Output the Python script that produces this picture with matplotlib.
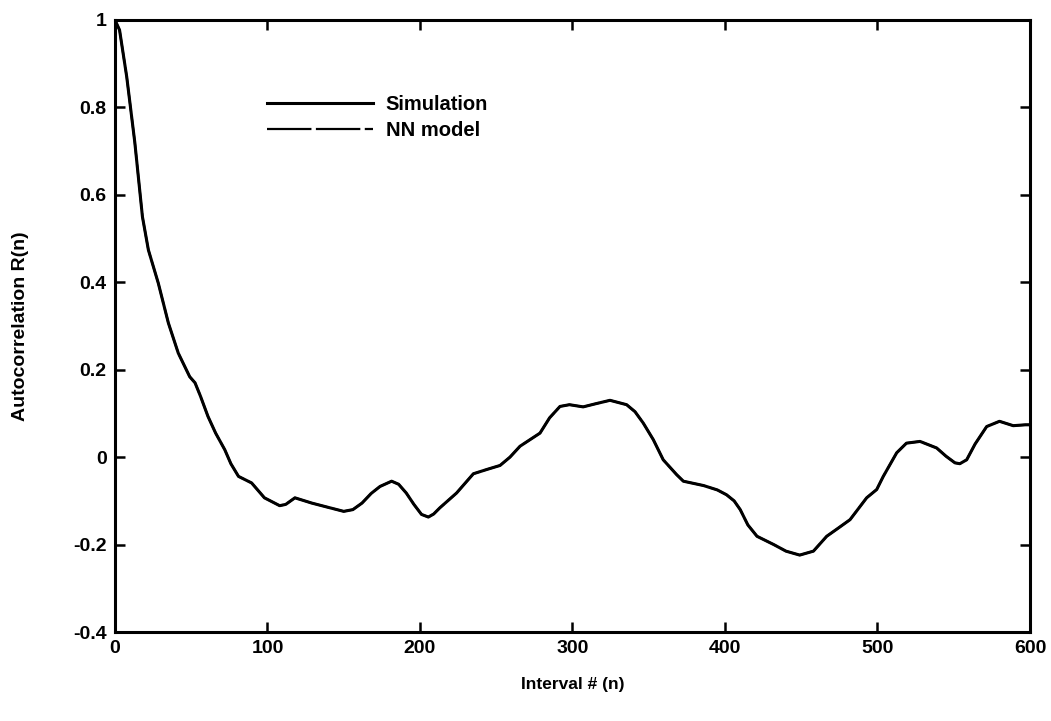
import matplotlib
matplotlib.use("Agg")
import matplotlib.pyplot as plt

# Autocorrelation of the interval sequence, simulation vs. NN model
lag = [0, 3, 7.7, 13, 18, 21.9, 28.4, 35, 41.5, 49, 52.5, 56, 61, 66, 72,
       76, 81, 89.6, 98, 108, 112, 118, 129, 140, 150, 156, 162, 168, 173.8,
       181.4, 186, 191, 196, 201, 205.5, 209, 213, 224, 235, 244, 252.5, 259,
       265.6, 278.7, 285, 291.8, 298, 307, 315, 324.6, 335.5, 341, 346.4,
       353, 359.5, 368.3, 372.7, 386, 395, 401, 406, 410, 415, 421, 432, 440,
       449, 458, 466.7, 474, 482, 492.9, 499.5, 503.8, 512.6, 519, 527.9,
       538.8, 545, 550.8, 554, 558.5, 564, 571.6, 580, 589, 597, 600]
r_sim = [1.0, 0.977, 0.87, 0.72, 0.55, 0.474, 0.398, 0.307, 0.238, 0.184,
         0.17, 0.14, 0.093, 0.055, 0.017, -0.015, -0.044, -0.059, -0.093,
         -0.111, -0.108, -0.093, -0.105, -0.115, -0.124, -0.12, -0.105,
         -0.083, -0.067, -0.055, -0.062, -0.082, -0.108, -0.131, -0.137,
         -0.13, -0.116, -0.082, -0.038, -0.028, -0.019, 0.0, 0.025, 0.055,
         0.09, 0.116, 0.12, 0.115, 0.122, 0.130, 0.12, 0.104, 0.078, 0.04,
         -0.006, -0.04, -0.055, -0.065, -0.075, -0.086, -0.10, -0.12, -0.155,
         -0.181, -0.2, -0.215, -0.224, -0.215, -0.181, -0.163, -0.143, -0.093,
         -0.074, -0.044, 0.01, 0.032, 0.036, 0.021, 0.002, -0.013, -0.015,
         -0.006, 0.03, 0.07, 0.082, 0.072, 0.074, 0.074]
# the model output lies on top of the simulated curve
r_nn = list(r_sim)

x_ticks = [0, 100, 200, 300, 400, 500, 600]
y_ticks = [-0.4, -0.2, 0, 0.2, 0.4, 0.6, 0.8, 1]
y_tick_labels = ["-0.4", "-0.2", "0", "0.2", "0.4", "0.6", "0.8", "1"]

plt.rcParams["font.family"] = ["Liberation Sans", "DejaVu Sans"]
plt.rcParams["font.weight"] = "bold"

fig = plt.figure(figsize=(10.51, 7.21), dpi=100)
ax = fig.add_axes([0.1094, 0.1234, 0.8706, 0.8489])

ax.plot(lag, r_sim, color="black", linewidth=2.2, label="Simulation")
ax.plot(lag, r_nn, color="black", linewidth=1.6, linestyle=(0, (20, 2)),
        label="NN model")

ax.set_xlim(0, 600)
ax.set_ylim(-0.4, 1)
ax.set_xticks(x_ticks)
ax.set_yticks(y_ticks)
ax.set_yticklabels(y_tick_labels)
ax.tick_params(direction="in", length=7, width=1.8, top=True, right=True,
               labelsize=14, pad=6)
for spine in ax.spines.values():
    spine.set_linewidth(2.2)

ax.set_xlabel("Interval # (n)", fontsize=12.5, fontweight="bold", labelpad=14)
ax.set_ylabel("Autocorrelation R(n)", fontsize=14, fontweight="bold",
              labelpad=32)

ax.legend(loc="upper left", bbox_to_anchor=(0.146, 0.907), frameon=False,
          handlelength=5.3, handletextpad=0.6, fontsize=14.5,
          labelspacing=0.35)

fig.savefig("out.png", dpi=100)
